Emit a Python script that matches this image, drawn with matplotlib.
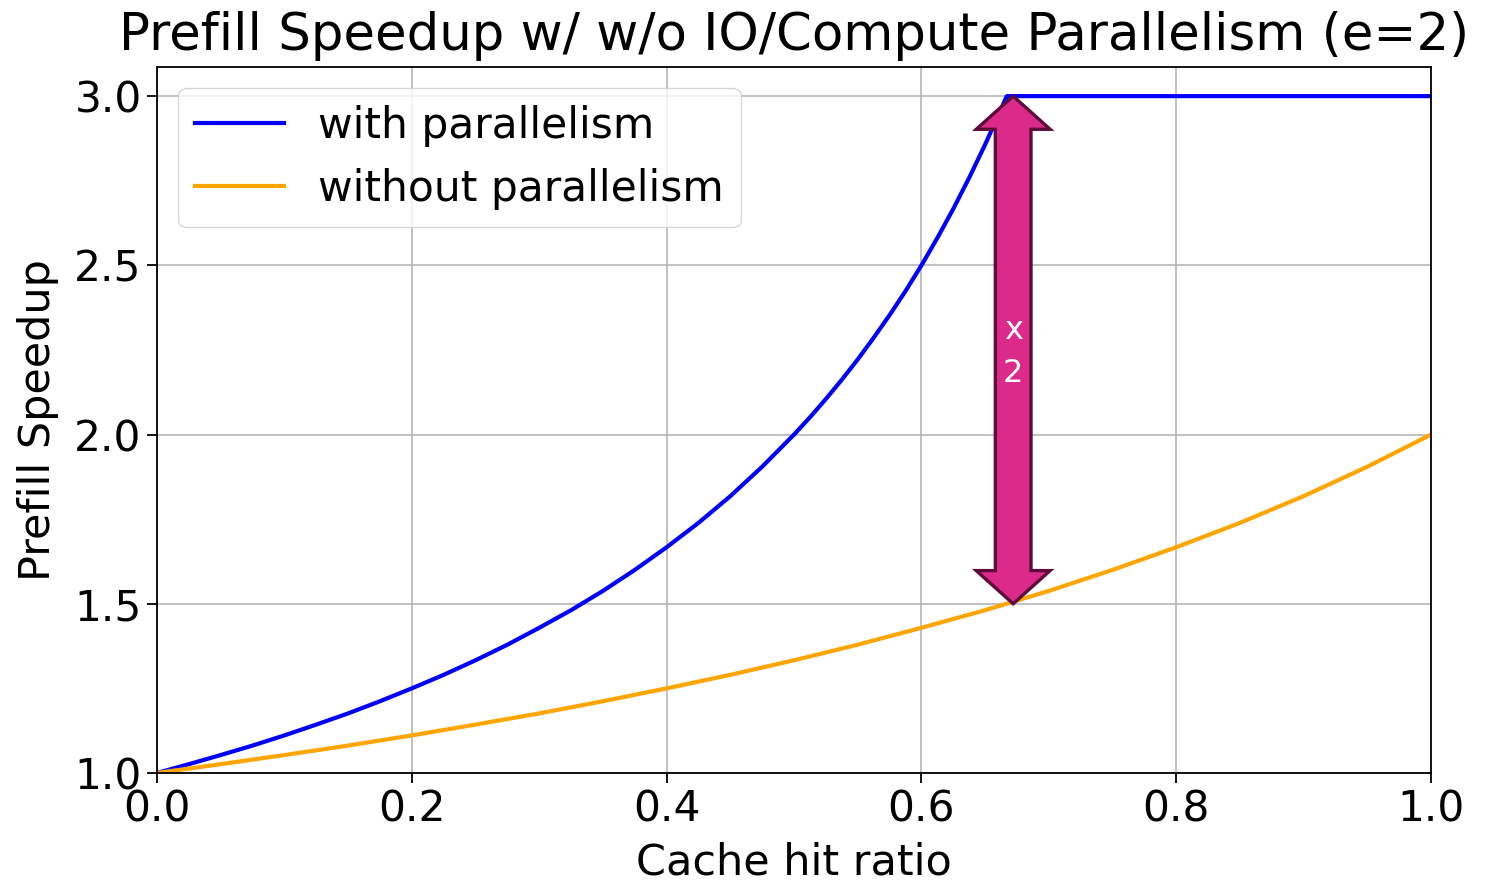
import matplotlib.pyplot as plt
import matplotlib.patches as mpatches

# Доля попаданий в кэш и ускорение
hit_with = [0.0, 0.025, 0.05, 0.075, 0.1, 0.125, 0.15, 0.175, 0.2, 0.225, 0.25,
            0.275, 0.3, 0.325, 0.35, 0.375, 0.4, 0.425, 0.45, 0.475, 0.5, 0.5125,
            0.525, 0.5375, 0.55, 0.5625, 0.575, 0.5875, 0.6, 0.6125, 0.625, 0.6375,
            0.65, 0.658, 0.667, 1.0]
speedup_with = [1.0, 1.026, 1.053, 1.081, 1.111, 1.143, 1.176, 1.212, 1.25, 1.29,
                1.333, 1.379, 1.429, 1.481, 1.538, 1.6, 1.667, 1.739, 1.818, 1.905,
                2.0, 2.051, 2.105, 2.162, 2.222, 2.286, 2.353, 2.424, 2.5, 2.581,
                2.667, 2.759, 2.857, 2.924, 3.0, 3.0]

hit_without = [0.0, 0.05, 0.1, 0.15, 0.2, 0.25, 0.3, 0.35, 0.4, 0.45, 0.5, 0.55,
               0.6, 0.65, 0.7, 0.75, 0.8, 0.85, 0.9, 0.95, 1.0]
speedup_without = [1.0, 1.026, 1.053, 1.081, 1.111, 1.143, 1.176, 1.212, 1.25, 1.29,
                   1.333, 1.379, 1.429, 1.481, 1.538, 1.6, 1.667, 1.739, 1.818,
                   1.905, 2.0]

# Стрелка "x2" между кривыми
arrow_x = 0.672
arrow_y_low = 1.5
arrow_y_high = 3.0
arrow_label = "x\n2"


def double_arrow(ax, x, y0, y1, shaft_w, head_w, head_l, **kw):
    """Толстая двусторонняя стрелка в координатах данных."""
    hs, hh = shaft_w / 2, head_w / 2
    pts = [
        (x, y1), (x + hh, y1 - head_l), (x + hs, y1 - head_l),
        (x + hs, y0 + head_l), (x + hh, y0 + head_l), (x, y0),
        (x - hh, y0 + head_l), (x - hs, y0 + head_l), (x - hs, y1 - head_l),
        (x - hh, y1 - head_l),
    ]
    poly = mpatches.Polygon(pts, closed=True, **kw)
    ax.add_patch(poly)
    return poly


fig = plt.figure(figsize=(14.91, 8.83), dpi=100)
ax = fig.add_axes([0.1053, 0.1246, 0.8545, 0.7995])

ax.plot(hit_with, speedup_with, color="blue", linewidth=3.0, label="with parallelism")
ax.plot(hit_without, speedup_without, color="orange", linewidth=3.0,
        label="without parallelism")

double_arrow(ax, arrow_x, arrow_y_low, arrow_y_high, 0.028, 0.058, 0.098,
             facecolor="#DC2A8A", edgecolor="#5E0A3A", linewidth=2.4, zorder=4)
ax.text(arrow_x, 2.245, arrow_label, color="white", fontsize=23, ha="center",
        va="center", linespacing=1.5, zorder=5)

ax.set_xlim(0, 1)
ax.set_ylim(1.0, 3.086)
ax.set_xticks([0.0, 0.2, 0.4, 0.6, 0.8, 1.0])
ax.set_yticks([1.0, 1.5, 2.0, 2.5, 3.0])
ax.tick_params(labelsize=30.5, length=7, width=1.3, pad=4)
ax.grid(True, linewidth=1.1)
for s in ax.spines.values():
    s.set_linewidth(1.3)

ax.set_xlabel("Cache hit ratio", fontsize=31, labelpad=8)
ax.set_ylabel("Prefill Speedup", fontsize=31, labelpad=11)
ax.set_title("Prefill Speedup w/ w/o IO/Compute Parallelism (e=2)", fontsize=37,
             pad=12)
ax.legend(loc="upper left", fontsize=30.5, handlelength=2.1)

plt.savefig("out.png", dpi=100)
plt.close(fig)
